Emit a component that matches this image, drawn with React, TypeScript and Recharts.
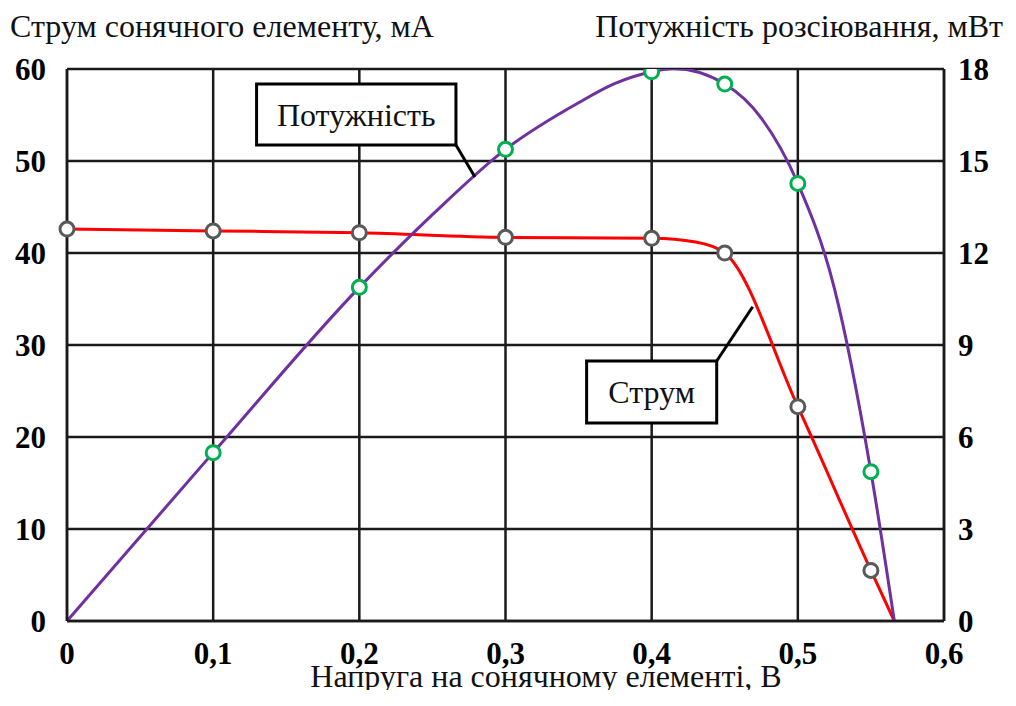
import {
  ComposedChart, Line, Scatter, XAxis, YAxis, CartesianGrid, ReferenceArea, ReferenceLine, Label,
} from "recharts";

// напруга, В — точки вимірювань
const markVolts = [0, 0.1, 0.2, 0.3, 0.4, 0.45, 0.5, 0.55];
const markCurrent = [42.6, 42.4, 42.2, 41.7, 41.6, 40.0, 23.3, 5.5];
const markPowerVolts = [0.1, 0.2, 0.3, 0.4, 0.45, 0.5, 0.55];
const markPower = [5.49, 10.88, 15.38, 17.91, 17.51, 14.27, 4.87];

// криві
const currentVolts = [0, 0.1, 0.2, 0.3, 0.4, 0.43, 0.45, 0.5, 0.55, 0.566];
const currentValues = [42.6, 42.4, 42.2, 41.7, 41.6, 41.2, 40.0, 23.3, 5.5, 0];
const powerVolts = [0, 0.1, 0.2, 0.25, 0.3, 0.35, 0.375, 0.4, 0.415, 0.45, 0.475, 0.5, 0.525, 0.55, 0.566];
const powerValues = [0, 5.49, 10.88, 13.25, 15.38, 16.9, 17.53, 17.91, 18.02, 17.51, 16.4, 14.27, 10.85, 4.87, 0];

const xTicks = [0, 0.1, 0.2, 0.3, 0.4, 0.5, 0.6];
const leftTicks = [0, 10, 20, 30, 40, 50, 60];
const rightTicks = [0, 3, 6, 9, 12, 15, 18];

const powerBox = { x1: 0.1297, x2: 0.2661, y1: 51.74, y2: 58.37 };
const powerLeader = [{ x: 0.2661, y: 51.74 }, { x: 0.2791, y: 48.26 }];
const currentBox = { x1: 0.3555, x2: 0.4445, y1: 21.52, y2: 28.26 };
const currentLeader = [{ x: 0.4445, y: 28.26 }, { x: 0.4691, y: 34.16 }];

const zip = (xs: number[], ys: number[]) => xs.map((v, i) => ({ v, y: ys[i] }));

const currentCurve = zip(currentVolts, currentValues);
const powerCurve = zip(powerVolts, powerValues);
const currentMarks = zip(markVolts, markCurrent);
const powerMarks = zip(markPowerVolts, markPower);

const comma = (v: number) => String(v).replace(".", ",");
const tickStyle = { fontSize: 31, fontWeight: 700, fill: "#000" };
const titleStyle: React.CSSProperties = {
  position: "absolute", fontSize: 32, lineHeight: "32px", whiteSpace: "nowrap", color: "#111",
};

const ring = (color: string) => (p: any) => (
  <circle cx={p.cx} cy={p.cy} r={7} fill="#fff" stroke={color} strokeWidth={3} />
);

export default function App() {
  return (
    <div style={{
      position: "relative", width: 1000, height: 690, marginBottom: -8,
      fontFamily: "'Liberation Serif', 'Times New Roman', serif",
    }}>
      <div style={{ ...titleStyle, left: 2, top: 2 }}>Струм сонячного елементу, мА</div>
      <div style={{ ...titleStyle, right: 5, top: 2 }}>Потужність розсіювання, мВт</div>
      <ComposedChart width={1000} height={690} margin={{ top: 61, right: 10, bottom: 0, left: 0 }}>
        <CartesianGrid stroke="#1a1a1a" strokeWidth={2.5} yAxisId="left" />
        <XAxis type="number" dataKey="v" domain={[0, 0.6]} ticks={xTicks} tickFormatter={comma}
          height={77} tick={tickStyle} tickLine={false} tickSize={6} tickMargin={15}
          axisLine={{ stroke: "#1a1a1a", strokeWidth: 2.5 }}>
          <Label content={() => (
            <text x={538} y={679} textAnchor="middle" fontSize={32} fill="#111">
              Напруга на сонячному елементі, В
            </text>
          )} />
        </XAxis>
        <YAxis yAxisId="left" type="number" domain={[0, 60]} ticks={leftTicks} width={59}
          tick={tickStyle} tickLine={false} tickSize={6} tickMargin={15}
          axisLine={{ stroke: "#1a1a1a", strokeWidth: 2.5 }} />
        <YAxis yAxisId="right" orientation="right" type="number" domain={[0, 18]} ticks={rightTicks}
          allowDataOverflow width={54} tick={tickStyle} tickLine={false} tickSize={6} tickMargin={8}
          axisLine={{ stroke: "#1a1a1a", strokeWidth: 2.5 }} />

        <Line yAxisId="left" data={currentCurve} dataKey="y" type="monotone" stroke="#ff0000"
          strokeWidth={3} dot={false} isAnimationActive={false} />
        <Line yAxisId="right" data={powerCurve} dataKey="y" type="monotone" stroke="#7030a0"
          strokeWidth={3} dot={false} isAnimationActive={false} />
        <Scatter yAxisId="left" data={currentMarks} dataKey="y" shape={ring("#595959")}
          isAnimationActive={false} />
        <Scatter yAxisId="right" data={powerMarks} dataKey="y" shape={ring("#00b050")}
          isAnimationActive={false} />

        <ReferenceLine yAxisId="left" segment={powerLeader} stroke="#000" strokeWidth={3} />
        <ReferenceLine yAxisId="left" segment={currentLeader} stroke="#000" strokeWidth={3} />
        <ReferenceArea yAxisId="left" {...powerBox} fill="#fff" fillOpacity={1} stroke="#000"
          strokeWidth={3} label={{ value: "Потужність", position: "center", fontSize: 32, fill: "#111" }} />
        <ReferenceArea yAxisId="left" {...currentBox} fill="#fff" fillOpacity={1} stroke="#000"
          strokeWidth={3} label={{ value: "Струм", position: "center", fontSize: 32, fill: "#111" }} />
      </ComposedChart>
    </div>
  );
}
